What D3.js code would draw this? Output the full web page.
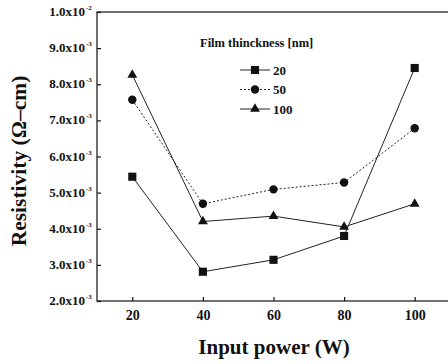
<!DOCTYPE html>
<html>
<head>
<meta charset="utf-8">
<script src="https://cdn.jsdelivr.net/npm/d3@7"></script>
<style>
  body { margin: 0; background: #fff; }
  svg text { font-family: "Liberation Serif", "Times New Roman", serif; font-weight: bold; fill: #111; }
</style>
</head>
<body>
<div id="chart"></div>
<script>
// input power (W)
let powers = [20, 40, 60, 80, 100];
// resistivity in units of 1e-3 ohm-cm, per film thickness
let res20 = [5.44, 2.81, 3.14, 3.80, 8.45];
let res50 = [7.57, 4.69, 5.09, 5.28, 6.78];
let res100 = [8.26, 4.20, 4.35, 4.05, 4.69];
let seriesNames = ['20', '50', '100'];
let yTicks = [2, 3, 4, 5, 6, 7, 8, 9, 10];

let width = 448, height = 364;
let margin = {top: 12, right: -2, bottom: 63, left: 97};
let serif = '"Liberation Serif", "Times New Roman", serif';

let svg = d3.select('#chart').append('svg')
    .attr('width', width)
    .attr('height', height)
    .attr('font-family', serif);

let x = d3.scaleLinear().domain([10, 110]).range([margin.left, width - margin.right]);
let y = d3.scaleLinear().domain([2, 10]).range([height - margin.bottom, margin.top]);

// frame
svg.append('rect')
    .attr('x', x(10)).attr('y', y(10))
    .attr('width', x(110) - x(10)).attr('height', y(2) - y(10))
    .attr('fill', 'none').attr('stroke', '#111').attr('stroke-width', 1.2);

// x axis, ticks pointing in
let xAxis = svg.append('g')
    .attr('transform', `translate(0,${y(2)})`)
    .call(d3.axisBottom(x).tickValues(powers).tickSize(-4).tickPadding(9));
xAxis.attr('font-family', serif);
xAxis.select('.domain').remove();
xAxis.selectAll('line').attr('stroke', '#111').attr('stroke-width', 1.2);
xAxis.selectAll('text').style('font-size', '14px').attr('fill', '#111');

// y axis, ticks pointing in
let yAxis = svg.append('g')
    .attr('transform', `translate(${x(10)},0)`)
    .call(d3.axisLeft(y).tickValues(yTicks).tickSize(-4).tickFormat(''));
yAxis.select('.domain').remove();
yAxis.selectAll('line').attr('stroke', '#111').attr('stroke-width', 1.2);

// y tick labels: mantissa x10 with superscript exponent
yTicks.forEach(v => {
    let mant = v === 10 ? '1.0' : v.toFixed(1);
    let exp = v === 10 ? '-2' : '-3';
    let t = svg.append('text')
        .attr('x', x(10) - 12)
        .attr('y', y(v) + 4)
        .attr('text-anchor', 'end')
        .style('font-size', '13px');
    t.append('tspan').text(mant + 'x10');
    t.append('tspan').attr('x', x(10) - 11).attr('dy', -6).attr('text-anchor', 'start')
        .style('font-size', '7px').text(exp);
});

// axis titles
svg.append('text')
    .attr('x', 274).attr('y', 354)
    .attr('text-anchor', 'middle')
    .style('font-size', '21px')
    .text('Input power (W)');

svg.append('text')
    .attr('transform', 'translate(26,161) rotate(-90)')
    .attr('text-anchor', 'middle')
    .style('font-size', '21.5px')
    .text('Resistivity (\u03A9\u2013cm)');

let line = d3.line()
    .x((d, i) => x(powers[i]))
    .y(d => y(d));

let series = [
    {name: seriesNames[0], values: res20, dash: null, marker: d3.symbolSquare, size: 66},
    {name: seriesNames[1], values: res50, dash: '2,2', marker: d3.symbolCircle, size: 56},
    {name: seriesNames[2], values: res100, dash: null, marker: d3.symbolTriangle, size: 42}
];

series.forEach(s => {
    svg.append('path')
        .datum(s.values)
        .attr('d', line)
        .attr('fill', 'none')
        .attr('stroke', '#222')
        .attr('stroke-width', 1)
        .attr('stroke-dasharray', s.dash);
    svg.selectAll(null)
        .data(s.values)
        .enter().append('path')
        .attr('d', d3.symbol().type(s.marker).size(s.size))
        .attr('transform', (d, i) => `translate(${x(powers[i])},${y(d)})`)
        .attr('fill', '#111');
});

// legend
svg.append('text')
    .attr('x', 200).attr('y', 47)
    .style('font-size', '12.5px')
    .text('Film thinckness [nm]');

series.forEach((s, i) => {
    let ly = 70 + i * 19.5;
    svg.append('line')
        .attr('x1', 240).attr('x2', 270)
        .attr('y1', ly).attr('y2', ly)
        .attr('stroke', '#222').attr('stroke-width', 1)
        .attr('stroke-dasharray', s.dash);
    svg.append('path')
        .attr('d', d3.symbol().type(s.marker).size(s.size))
        .attr('transform', `translate(255,${ly})`)
        .attr('fill', '#111');
    svg.append('text')
        .attr('x', 273).attr('y', ly + 4.5)
        .style('font-size', '13px')
        .text(s.name);
});
</script>
</body>
</html>
